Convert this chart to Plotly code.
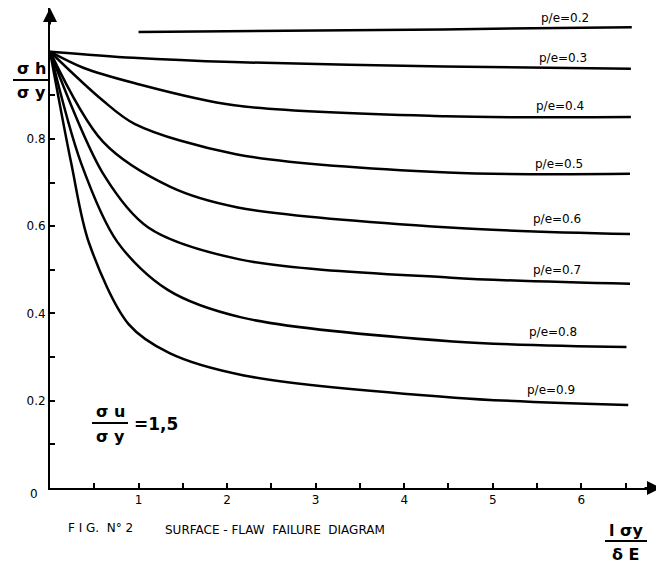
import plotly.graph_objects as go

# ---- data ----
pe_labels = ["p/e=0.2", "p/e=0.3", "p/e=0.4", "p/e=0.5", "p/e=0.6", "p/e=0.7", "p/e=0.8", "p/e=0.9"]

x_pe02 = [1.0, 4.43, 6.57]
y_pe02 = [1.045, 1.051, 1.056]

x_pe03 = [0.0, 0.94, 2.07, 4.45, 6.56]
y_pe03 = [1.0, 0.986, 0.976, 0.966, 0.961]

x_pe04 = [0.0, 0.375, 0.95, 2.08, 4.47, 6.56]
y_pe04 = [1.0, 0.963, 0.928, 0.877, 0.852, 0.850]

x_pe05 = [0.0, 0.58, 0.96, 2.10, 4.49, 6.55]
y_pe05 = [1.0, 0.891, 0.834, 0.765, 0.723, 0.720]

x_pe06 = [0.0, 0.60, 1.36, 2.12, 4.51, 6.55]
y_pe06 = [1.0, 0.793, 0.690, 0.643, 0.597, 0.582]

x_pe07 = [0.0, 0.61, 1.11, 2.14, 4.53, 6.55]
y_pe07 = [1.0, 0.717, 0.597, 0.524, 0.482, 0.468]

x_pe08 = [0.0, 0.35, 0.76, 1.33, 2.16, 4.55, 6.51]
y_pe08 = [1.0, 0.745, 0.564, 0.454, 0.391, 0.336, 0.323]

x_pe09 = [0.0, 0.24, 0.44, 0.89, 1.35, 2.19, 4.57, 6.53]
y_pe09 = [1.0, 0.744, 0.562, 0.375, 0.309, 0.258, 0.207, 0.190]

label_x = [5.82, 5.79, 5.76, 5.75, 5.73, 5.72, 5.68, 5.66]
label_y = [1.076, 0.986, 0.876, 0.743, 0.617, 0.500, 0.357, 0.224]

x_tickvals = [0.5, 1, 1.5, 2, 2.5, 3, 3.5, 4, 4.5, 5, 5.5, 6, 6.5]
x_ticktext = ["", "1", "", "2", "", "3", "", "4", "", "5", "", "6", ""]
y_tickvals = [0.1, 0.2, 0.3, 0.4, 0.5, 0.6, 0.7, 0.8, 0.9, 1.0]
y_ticktext = ["", "0.2", "", "0.4", "", "0.6", "", "0.8", "", ""]

series = [
    (x_pe02, y_pe02), (x_pe03, y_pe03), (x_pe04, y_pe04), (x_pe05, y_pe05),
    (x_pe06, y_pe06), (x_pe07, y_pe07), (x_pe08, y_pe08), (x_pe09, y_pe09),
]

FONT = "DejaVu Sans"
# the page body adds an 8 px offset, so the figure is 8 px smaller and shifted
OFF = 8
W, H = 664 - OFF, 564 - OFF
L, R, T, B = 42, 3, 0, 76
PW, PH = W - L - R, H - T - B


def px(xpix):
    # reference-window pixel -> paper x
    return (xpix - OFF - L) / PW


def py(ypix):
    # reference-window pixel -> paper y
    return (H - B - (ypix - OFF)) / PH


fig = go.Figure()
for (xs, ys), name in zip(series, pe_labels):
    fig.add_trace(go.Scatter(
        x=xs, y=ys, mode="lines", name=name,
        line=dict(color="black", width=2.5, shape="spline", smoothing=0.9),
        showlegend=False, hoverinfo="skip",
    ))

annotations = []
for t, lx, ly in zip(pe_labels, label_x, label_y):
    annotations.append(dict(x=lx, y=ly, xref="x", yref="y", text=t, showarrow=False,
                            xanchor="center", yanchor="middle",
                            font=dict(family=FONT, size=12, color="black")))

# axis arrowheads
annotations.append(dict(x=6.9, y=0, xref="x", yref="y", text="", showarrow=True,
                        ax=-18, ay=0, arrowhead=2, arrowsize=1.4, arrowwidth=2, arrowcolor="black"))
annotations.append(dict(x=0, y=1.1, xref="x", yref="y", text="", showarrow=True,
                        ax=0, ay=18, arrowhead=2, arrowsize=1.4, arrowwidth=2, arrowcolor="black"))

txt = dict(family=FONT, size=12, color="black")
big = dict(family=FONT, size=16, color="black")


def note(x, y, text, font, anchor="center"):
    return dict(x=px(x), y=py(y), xref="paper", yref="paper", text=text, showarrow=False,
                xanchor=anchor, yanchor="middle", font=font)


annotations += [
    note(34, 494, "0", txt),
    # y-axis title fraction
    note(31, 68, "<b>σ h</b>", big),
    note(31, 92, "<b>σ y</b>", big),
    # x-axis title fraction
    note(626, 530, "<b>l σy</b>", big),
    note(626, 554, "<b>δ E</b>", big),
    # sigma u / sigma y = 1,5
    note(110, 411, "<b>σ u</b>", big),
    note(110, 436, "<b>σ y</b>", big),
    note(132, 424, "<b>=1,5</b>", dict(family=FONT, size=17, color="black"), anchor="left"),
    # caption
    note(66, 528, "F I G.  N° 2", txt, anchor="left"),
    note(163, 530, "SURFACE - FLAW  FAILURE  DIAGRAM", txt, anchor="left"),
]

shapes = [
    dict(type="line", xref="paper", yref="paper", x0=px(13), x1=px(48), y0=py(80), y1=py(80),
         line=dict(color="black", width=2)),
    dict(type="line", xref="paper", yref="paper", x0=px(605), x1=px(647), y0=py(541), y1=py(541),
         line=dict(color="black", width=2)),
    dict(type="line", xref="paper", yref="paper", x0=px(92), x1=px(128), y0=py(423), y1=py(423),
         line=dict(color="black", width=2)),
]

fig.update_layout(
    template="none",
    width=W, height=H,
    margin=dict(l=L, r=R, t=T, b=B, autoexpand=False),
    paper_bgcolor="white", plot_bgcolor="white",
    font=dict(family=FONT, size=12, color="black"),
    annotations=annotations, shapes=shapes,
    xaxis=dict(range=[0, 6.9], automargin=False, showgrid=False, zeroline=False, showline=True,
               linecolor="black", linewidth=2, ticks="inside", ticklen=5, tickwidth=1.5,
               tickcolor="black", tickvals=x_tickvals, ticktext=x_ticktext,
               tickfont=dict(family=FONT, size=12, color="black")),
    yaxis=dict(range=[0, 1.1], automargin=False, showgrid=False, zeroline=False, showline=True,
               linecolor="black", linewidth=2, ticks="inside", ticklen=5, tickwidth=1.5,
               tickcolor="black", tickvals=y_tickvals, ticktext=y_ticktext,
               tickfont=dict(family=FONT, size=12, color="black")),
)

fig.write_html("out.html")
